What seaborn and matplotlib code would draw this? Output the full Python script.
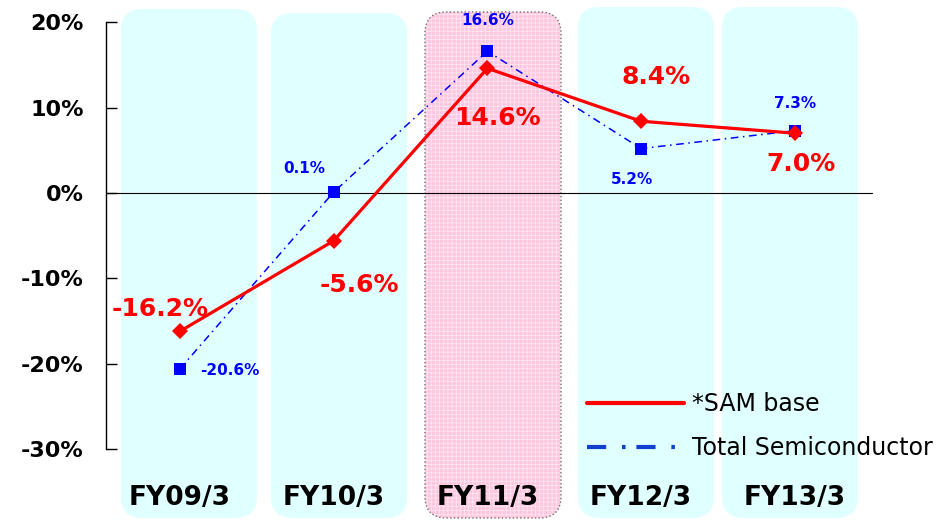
import matplotlib
matplotlib.use("Agg")
import matplotlib.pyplot as plt
import seaborn as sns
from matplotlib.patches import FancyBboxPatch
from matplotlib.lines import Line2D

# -----------------------------
# Data
# -----------------------------
years = ["FY09/3", "FY10/3", "FY11/3", "FY12/3", "FY13/3"]
sam_base = [-16.2, -5.6, 14.6, 8.4, 7.0]
total_semi = [-20.6, 0.1, 16.6, 5.2, 7.3]
y_ticks = [-30, -20, -10, 0, 10, 20]

# label offsets in pixels (dx, dy)
sam_offsets = [(-20, 22), (26, -44), (10, -50), (15, 44), (6, -31)]
semi_offsets = [(50, -2), (-29, 24), (0, 31), (-9, -31), (0, 27)]

# background panels: left edge (data x) and top (data y)
panel_left = [-0.384, 0.592, 1.594, 2.589, 3.526]
panel_top = [21.55, 21.08, 21.2, 21.78, 21.78]
panel_width = 0.885
panel_bottom = -38.06

sns.set_style("white")
plt.rcParams["font.family"] = ["DejaVu Sans"]
plt.rcParams["hatch.linewidth"] = 0.6

fig = plt.figure(figsize=(9.49, 5.2), dpi=100)
ax = fig.add_axes([106 / 949, 0, 843 / 949, 1])
ax.set_xlim(-0.481, 5.003)
ax.set_ylim(-38.3, 22.6)

# -----------------------------
# Rounded background panels
# -----------------------------
aspect = (60.9 / 520) / (5.484 / 843)
for i, left in enumerate(panel_left):
    h = panel_top[i] - panel_bottom
    if i == 2:
        ax.add_patch(FancyBboxPatch(
            (left, panel_bottom), panel_width, h,
            boxstyle="round,pad=0,rounding_size=0.14", mutation_aspect=aspect,
            facecolor="#ffc6df", edgecolor="#ffe6f1", hatch="++++",
            linewidth=0, zorder=0))
        ax.add_patch(FancyBboxPatch(
            (left, panel_bottom), panel_width, h,
            boxstyle="round,pad=0,rounding_size=0.14", mutation_aspect=aspect,
            facecolor="none", edgecolor="#707070", linestyle=":",
            linewidth=1, zorder=0.5))
    else:
        ax.add_patch(FancyBboxPatch(
            (left, panel_bottom), panel_width, h,
            boxstyle="round,pad=0,rounding_size=0.14", mutation_aspect=aspect,
            facecolor="#e0ffff", edgecolor="none", zorder=0))

ax.axhline(0, xmin=0, xmax=0.909, color="black", lw=0.8, zorder=1)

# -----------------------------
# Lines
# -----------------------------
xs = list(range(len(years)))
sns.lineplot(x=xs, y=total_semi, ax=ax, color="#0000ff", lw=1.1,
             linestyle=(0, (5, 3, 1, 3)), marker="s", markersize=9,
             markeredgewidth=0, sort=False, zorder=3)
sns.lineplot(x=xs, y=sam_base, ax=ax, color="#ff0000", lw=2.3,
             marker="D", markersize=8, markeredgewidth=0, sort=False, zorder=4)

for x, v, off in zip(xs, sam_base, sam_offsets):
    ax.annotate(f"{v:.1f}%", (x, v), xytext=off, textcoords="offset pixels",
                ha="center", va="center", color="#ff0000", fontsize=18,
                fontweight="bold", zorder=5)
for x, v, off in zip(xs, total_semi, semi_offsets):
    ax.annotate(f"{v:.1f}%", (x, v), xytext=off, textcoords="offset pixels",
                ha="center", va="center", color="#0000ff", fontsize=11,
                fontweight="bold", zorder=5)

# -----------------------------
# Axes styling
# -----------------------------
for side in ["top", "right", "bottom"]:
    ax.spines[side].set_visible(False)
ax.spines["left"].set_bounds(-30, 20)
ax.spines["left"].set_color("black")
ax.spines["left"].set_linewidth(1)

ax.set_yticks(y_ticks)
ax.set_yticklabels([f"{t}%" for t in y_ticks], fontsize=16, fontweight="bold")
ax.tick_params(axis="y", direction="in", length=8, width=1, pad=16,
               colors="black", left=True)

ax.set_xticks(xs)
ax.set_xticklabels(years, fontsize=19, fontweight="bold", color="black")
ax.tick_params(axis="x", length=0, pad=-25)
ax.set_xlabel("")
ax.set_ylabel("")

# -----------------------------
# Legend
# -----------------------------
handles = [
    Line2D([], [], color="#ff0000", lw=3),
    Line2D([], [], color="#1040d0", lw=3, linestyle=(0, (4.6, 3.8, 0.85, 2.6))),
]
ax.legend(handles, ["*SAM base", "Total Semiconductor"], loc="upper left",
          bbox_to_anchor=(587 / 949, 1 - 392 / 520), bbox_transform=fig.transFigure,
          frameon=False, fontsize=17, handlelength=4.1, handletextpad=0.35,
          labelspacing=0.85, borderpad=0, borderaxespad=0, labelcolor="black")

fig.savefig("out.png", dpi=100)
